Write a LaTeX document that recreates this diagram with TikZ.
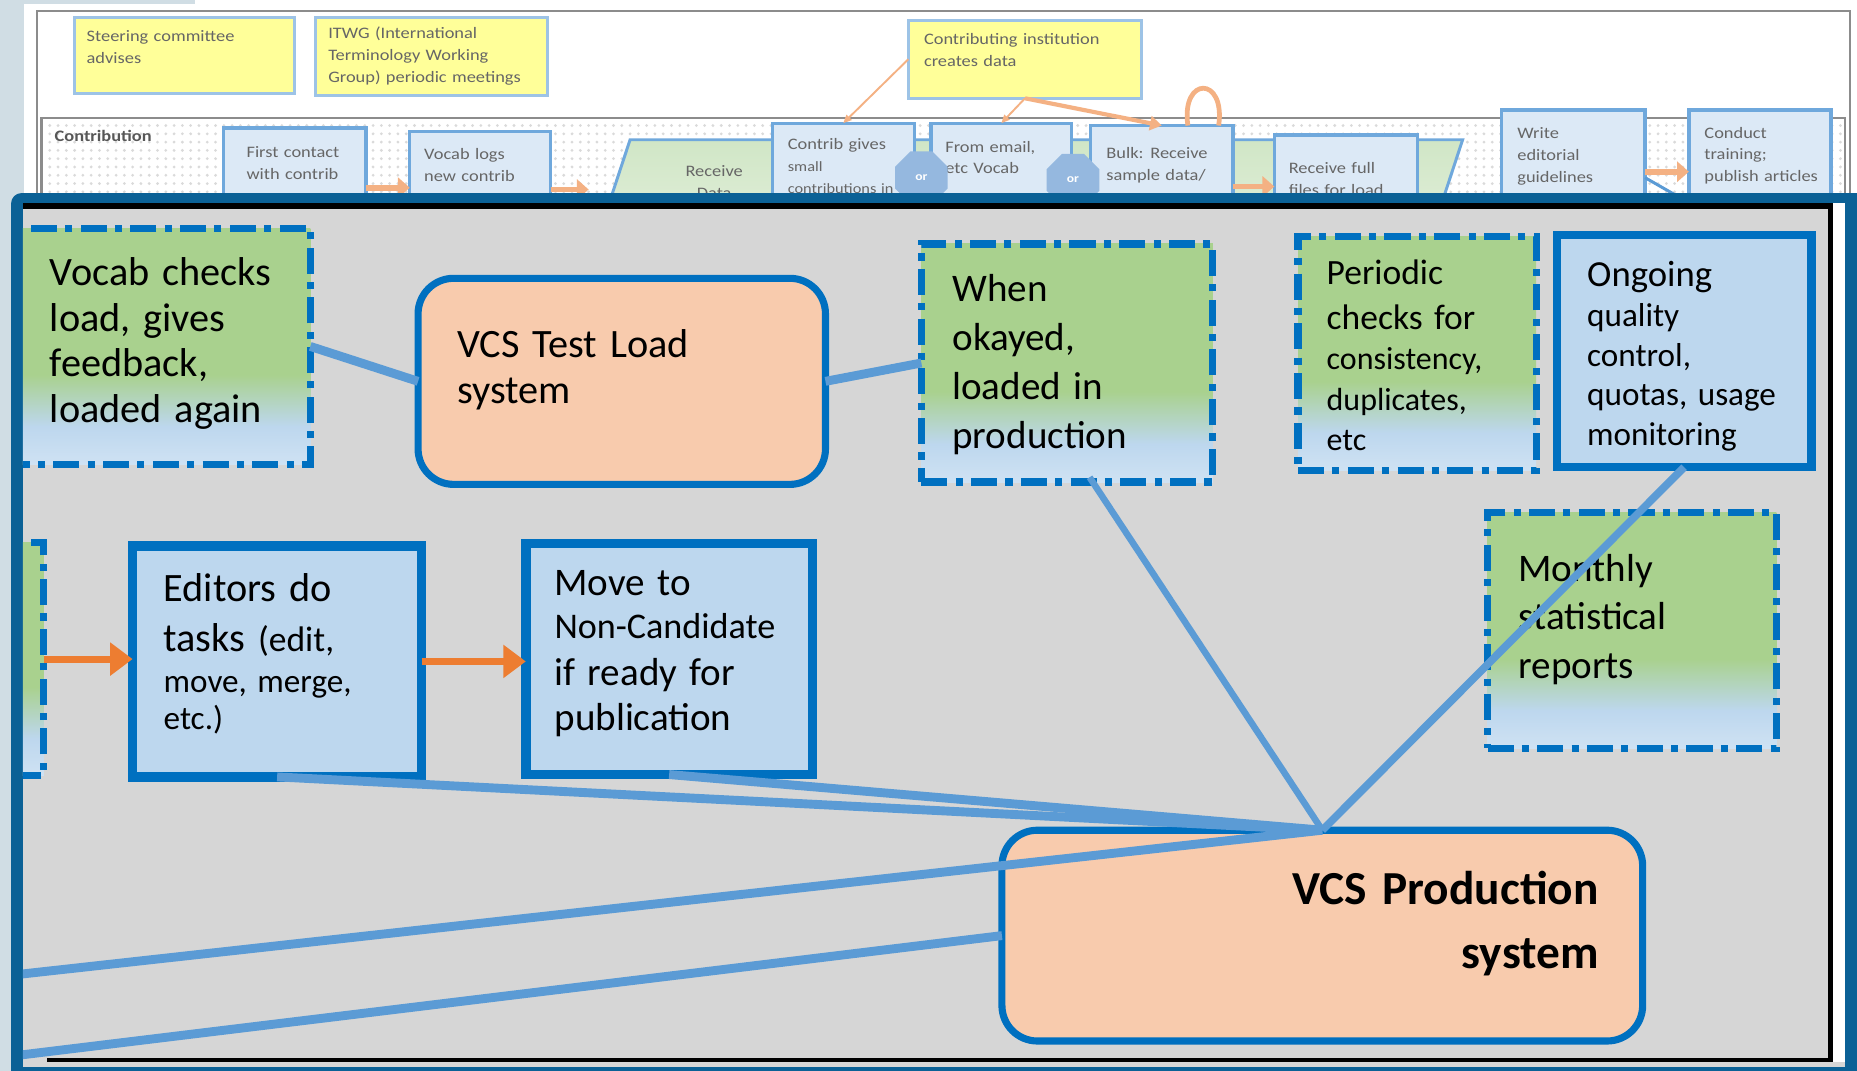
\documentclass[tikz,border=0pt]{standalone}
\usepackage{fontspec}
\setmainfont{Carlito}[WordSpace=1.4]
\newfontfamily\stripfam[FakeStretch=1.15,WordSpace=1.3]{Carlito}
\usetikzlibrary{arrows.meta,shapes.geometric,patterns.meta,calc}
\definecolor{frameblue}{HTML}{0B6196}
\definecolor{boxblue}{HTML}{0070C0}
\definecolor{conblue}{HTML}{5B9BD5}
\definecolor{peach}{HTML}{F8CBAD}
\definecolor{lblue}{HTML}{BDD7EE}
\definecolor{lbluelo}{HTML}{CFE2F3}
\definecolor{green1}{HTML}{A9D18E}
\definecolor{orangeA}{HTML}{ED7D31}
\definecolor{orangeL}{HTML}{F4B183}
\definecolor{yel}{HTML}{FFFF99}
\definecolor{ybord}{HTML}{9DC3E6}
\definecolor{sboxfill}{HTML}{DCE9F6}
\definecolor{sbord}{HTML}{6FA8DC}
\definecolor{tgreenhi}{HTML}{D0E6C6}
\definecolor{tgreenlo}{HTML}{E2EFDA}
\definecolor{txtgray}{HTML}{666666}
\definecolor{sidegray}{HTML}{D0DDE4}
\definecolor{checkgray}{HTML}{D6D6D6}
\definecolor{framegray}{HTML}{8C8C8C}
\definecolor{dotgray}{HTML}{DADADA}
\definecolor{orfill}{HTML}{95B8DF}
\pgfdeclareverticalshading{gbshade}{100bp}{color(0bp)=(lbluelo); color(25bp)=(lbluelo); color(33bp)=(lblue); color(44bp)=(green1); color(100bp)=(green1)}
\pgfdeclareverticalshading{trapshade}{100bp}{color(0bp)=(tgreenlo); color(25bp)=(tgreenlo); color(75bp)=(tgreenhi); color(100bp)=(tgreenhi)}
\newcommand\striptext{\stripfam\fontsize{13.5}{18.5}\selectfont}
\newcommand\wsfix{\spaceskip=0pt\xspaceskip=0pt\relax}
\begin{document}
\begin{tikzpicture}[x=1pt,y=-1pt,
  box/.style={inner sep=0pt, outer sep=0pt},
  dashbox/.style={box, draw=boxblue, line width=6pt, dash pattern=on 22pt off 7pt on 6pt off 7pt, shading=gbshade},
  solidbox/.style={box, draw=boxblue, line width=7pt, fill=lblue},
  sysbox/.style={box, draw=boxblue, line width=6pt, fill=peach, rounded corners=30pt},
  txt/.style={inner sep=0pt, anchor=west, text width=320pt, align=left},
  con/.style={draw=conblue, line width=7.5pt},
  oarr/.style={draw=orangeA, line width=6pt, -{Triangle[length=19pt,width=27pt]}},
  sbx/.style={box, draw=sbord, line width=2.8pt, fill=sboxfill},
  ybx/.style={box, draw=ybord, line width=2.5pt, fill=yel},
  stxt/.style={inner sep=0pt, anchor=west, align=left, text=txtgray, font=\striptext},
  larr/.style={draw=orangeL, line width=5pt, -{Triangle[length=10pt,width=17pt]}},
  tarr/.style={draw=orangeL, line width=1.6pt, -{Triangle[length=7pt,width=6pt]}},
  orshape/.style={regular polygon, regular polygon sides=8, minimum size=48pt, inner sep=0pt, fill=orfill, text=white, font=\stripfam\bfseries\fontsize{10}{12}\selectfont}
]
\useasboundingbox (0,0) rectangle (1568,904);
\fill[white] (0,0) rectangle (1568,904);
\fill[sidegray] (0,0) rectangle (20,904);
\fill[sidegray] (0,0) rectangle (165,3);

% ---------- background diagram strip ----------
\draw[framegray, line width=2pt] (31,9.5) rectangle (1562,200);
\path[pattern={Dots[distance=7pt,radius=1.3pt]}, pattern color=dotgray] (35,100) rectangle (1558,200);
\draw[framegray, line width=1.8pt] (35,100) rectangle (1558,200);
\node[inner sep=0pt, anchor=west, text=txtgray!85!black, font=\striptext\bfseries] (lane) at (46,115) {Contribution};

\node[ybx, minimum width=186pt, minimum height=64pt] (steer) at (156,47) {};
\node[stxt] (steerT) at (73,40) {Steering committee\\advises};
\node[ybx, minimum width=196pt, minimum height=66pt] (itwg) at (364,48) {};
\node[stxt] (itwgT) at (277,47.5) {ITWG (International\\Terminology Working\\Group) periodic meetings};
\node[ybx, minimum width=197pt, minimum height=66pt] (ci) at (865.5,50) {};
\node[stxt] (ciT) at (780,42) {Contributing institution\\creates data};

\draw[sbord, line width=2.5pt, shading=trapshade] (505,200) -- (532,118) -- (1235,118) -- (1208,200) -- cycle;
\node[inner sep=0pt, align=center, text=txtgray, font=\striptext] (recvT) at (603,154) {Receive\\Data};

\node[sbx, minimum width=120pt, minimum height=77pt] (first) at (249,146.5) {};
\node[stxt] (firstT) at (208,137.5) {First contact\\with contrib};
\node[sbx, minimum width=119pt, minimum height=74pt] (vlog) at (405.5,148) {};
\node[stxt] (vlogT) at (358,139) {Vocab logs\\new contrib};
\node[sbx, minimum width=120pt, minimum height=81pt] (cg) at (712,144.5) {};
\node[stxt] (cgT) at (665,140) {Contrib gives\\{\fontsize{12}{17}\selectfont small}\\{\fontsize{12}{17}\selectfont contributions in}};
\node[sbx, minimum width=119pt, minimum height=81pt] (fe) at (845.5,144.5) {};
\node[stxt] (feT) at (798,133) {From email,\\etc Vocab};
\node[sbx, minimum width=120pt, minimum height=79pt] (bulk) at (981,145.5) {};
\node[stxt] (bulkT) at (934,139.5) {Bulk: Receive\\sample data/};
\node[sbx, minimum width=121pt, minimum height=71pt] (rff) at (1136.5,149.5) {};
\node[stxt] (rffT) at (1088,151) {Receive full\\files for load};
\node[sbx, minimum width=121pt, minimum height=92pt] (write) at (1328.5,139) {};
\node[stxt] (writeT) at (1281,132) {Write\\editorial\\guidelines};
\node[sbx, minimum width=120pt, minimum height=92pt] (cond) at (1486,139) {};
\node[stxt] (condT) at (1439,131.5) {Conduct\\training;\\publish articles};

\node[orshape] (or1) at (778,150) {or};
\node[orshape] (or2) at (906,152) {or};

\coordinate (trapL) at (497,160);
\coordinate (blueEnd) at (1424,170);
\draw[tarr] (ci.west) -- (cg.north);
\draw[tarr] (ci.south) -- (fe.north);
\draw[tarr, line width=3.5pt, -{Triangle[length=10pt,width=12pt]}] (ci.south) -- (bulk.north);
\draw[orangeL, line width=4pt] ($(bulk.north)+(22,0)$) .. controls +(-6,-42) and +(6,-42) .. ($(bulk.north)+(48,0)$);
\draw[larr] ($(first.east)+(0,12)$) -- ($(first.east -| vlog.west)+(0,12)$);
\draw[larr] ($(vlog.east)+(0,12)$) -- (trapL);
\draw[larr] ($(bulk.east)+(0,12)$) -- ($(bulk.east -| rff.west)+(0,12)$);
\draw[larr] ($(write.east)+(0,6)$) -- ($(write.east -| cond.west)+(0,6)$);
\draw[conblue, line width=2.5pt] ($(write.east)+(0,11)$) -- (blueEnd);

% ---------- zoomed inset ----------
\fill[frameblue, rounded corners=9pt] (9.3,163) rectangle (1590,920);
\fill[white] (19.4,171) rectangle (1558,901);
\fill[checkgray] (19.4,176.5) rectangle (1543.6,901);
\fill[checkgray] (19.4,897) rectangle (1558,901);
\fill[black] (19.4,171.4) rectangle (1547.7,176.5);
\fill[black] (1543.6,171.4) rectangle (1547.7,897);
\fill[black] (40,893) rectangle (1547.7,897);

\begin{scope}
\clip (19.4,176.5) rectangle (1543.6,899);
\node[dashbox, minimum width=259pt, minimum height=199pt] (vocab) at (132.5,292.5) {};
\node[txt] (vocabT) at (42,290) {\fontsize{34}{38.5}\selectfont\wsfix Vocab checks\\load, gives\\feedback,\\loaded again\par};
\node[sysbox, minimum width=344pt, minimum height=174pt] (testload) at (525,322) {};
\node[txt] (testloadT) at (386,312) {\fontsize{34}{39}\selectfont\wsfix VCS Test Load\\system\par};
\node[dashbox, minimum width=246pt, minimum height=201pt] (when) at (901,306.5) {};
\node[txt] (whenT) at (804,308) {\fontsize{33}{41.5}\selectfont\wsfix When\\okayed,\\loaded in\\production\par};
\node[dashbox, minimum width=201pt, minimum height=197pt] (periodic) at (1196.5,298.5) {};
\node[txt] (periodicT) at (1120,300) {\wsfix{\fontsize{30}{38}\selectfont Periodic\\checks for\par}{\fontsize{27}{34}\selectfont consistency,\\duplicates,\\etc\par}};
\node[solidbox, minimum width=215pt, minimum height=196pt] (ongoing) at (1422,296.5) {};
\node[txt] (ongoingT) at (1340,301) {\wsfix{\fontsize{31}{36}\selectfont Ongoing\par}{\fontsize{28}{33.5}\selectfont quality\\control,\\quotas, usage\\monitoring\par}};
\node[dashbox, minimum width=244pt, minimum height=199pt] (monthly) at (1378,532.5) {};
\node[txt] (monthlyT) at (1282,523) {\fontsize{33}{41}\selectfont\wsfix Monthly\\statistical\\reports\par};
\node[dashbox, minimum width=234pt, minimum height=197pt] (leftbox) at (-80,556.5) {};
\node[solidbox, line width=8pt, minimum width=244pt, minimum height=195pt] (editors) at (234,558.5) {};
\node[txt] (editorsT) at (138,552) {\wsfix{\fontsize{34}{42}\selectfont Editors do\\tasks {\fontsize{30}{36}\selectfont (edit,}\par}{\fontsize{28}{35}\selectfont move, merge,\\[-4pt]etc.)\par}};
\node[solidbox, line width=8pt, minimum width=242pt, minimum height=195pt] (move) at (565,556.5) {};
\node[txt] (moveT) at (468,552) {\wsfix{\fontsize{33}{36}\selectfont Move to\\{\fontsize{30.5}{36}\selectfont Non-Candidate}\par}{\fontsize{33}{40}\selectfont if ready for\\[-2pt]publication\par}};
\node[sysbox, minimum width=541pt, minimum height=178pt] (prod) at (1116.5,790) {};
\node[inner sep=0pt, anchor=east, align=right, font=\bfseries\fontsize{40}{54}\selectfont] (prodT) at (1350,780) {VCS Production\\system};

\coordinate (offA) at (-50,830);
\coordinate (offB) at (-50,899);
\draw[con] (vocab.east) -- (testload.west);
\draw[con] (testload.east) -- (when.west);
\draw[con, line width=5.5pt] ($(when.south)+(19,-4)$) -- (prod.north);
\draw[con, line width=6.5pt] (ongoing.south) -- (prod.north);
\draw[con] (editors.south) -- (prod.north);
\draw[con] (move.south) -- (prod.north);
\draw[con] (offA) -- (prod.north);
\draw[con] (offB) -- (prod.west);
\draw[oarr] (leftbox.east) -- (leftbox.east -| editors.west);
\draw[oarr] (editors.east) -- (editors.east -| move.west);
\end{scope}
\end{tikzpicture}
\end{document}
